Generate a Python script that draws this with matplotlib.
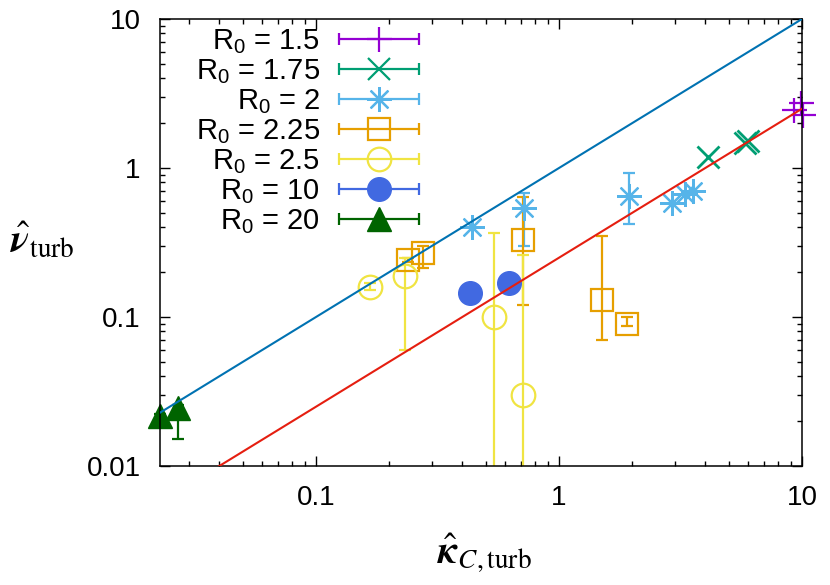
import numpy as np
import matplotlib
matplotlib.use('Agg')
import matplotlib.pyplot as plt
from matplotlib.legend_handler import HandlerErrorbar
from matplotlib.ticker import LogLocator, NullFormatter, FuncFormatter

plt.rcParams['font.family'] = ['Liberation Sans', 'DejaVu Sans']
plt.rcParams['mathtext.fontset'] = 'custom'
plt.rcParams['mathtext.rm'] = 'Liberation Sans'
plt.rcParams['mathtext.it'] = 'Liberation Sans:italic'
plt.rcParams['mathtext.bf'] = 'Liberation Sans:bold'

# ---------------- data ----------------
labels = ['1.5', '1.75', '2', '2.25', '2.5', '10', '20']

x_15 = [9.95, 9.25, 10.1]
y_15 = [2.73, 2.45, 2.27]

x_175 = [4.1, 5.8, 6.0]
y_175 = [1.18, 1.47, 1.52]

x_2 = [0.44, 0.72, 1.95, 2.93, 3.3, 3.55]
y_2 = [0.40, 0.54, 0.65, 0.58, 0.67, 0.70]
ylo_2 = [np.nan, 0.30, 0.42, np.nan, np.nan, np.nan]
yhi_2 = [np.nan, 0.68, 0.92, np.nan, np.nan, np.nan]

x_225 = [0.24, 0.275, 0.71, 1.51, 1.91]
y_225 = [0.24, 0.27, 0.33, 0.13, 0.09]
ylo_225 = [0.235, 0.212, 0.12, 0.07, 0.0875]
yhi_225 = [0.25, 0.30, 0.64, 0.35, 0.10]

x_25 = [0.167, 0.232, 0.54, 0.71]
y_25 = [0.16, 0.188, 0.10, 0.030]
ylo_25 = [0.152, 0.060, 0.002, 0.002]
yhi_25 = [0.168, 0.25, 0.365, 0.26]

x_10 = [0.43, 0.62]
y_10 = [0.144, 0.168]

x_20 = [0.0228, 0.027]
y_20 = [0.0215, 0.0245]
ylo_20 = [0.0188, 0.0152]
yhi_20 = [0.0225, 0.0255]

# reference lines  nu = c * kappa
line_x = [0.0228, 10.0]
coef_blue = 1.0
coef_red = 0.25

# --------------- styles ---------------
c_purple = '#9400d3'
c_green = '#009e73'
c_lblue = '#56b4e9'
c_orange = '#e69f00'
c_yellow = '#f0e442'
c_royal = '#4169e1'
c_dgreen = '#006400'
c_line_blue = '#0072b2'
c_line_red = '#e51e10'

fig = plt.figure(figsize=(8.3, 5.85), dpi=100)
ax = fig.add_axes([160/830, 1-466/585, 642/830, 447/585])
ax.set_xscale('log')
ax.set_yscale('log')
ax.set_xlim(0.0228, 10)
ax.set_ylim(0.01, 10)


def yerr_of(y, lo, hi):
    y = np.asarray(y, float)
    return [y - np.asarray(lo, float), np.asarray(hi, float) - y]


ms = 16
mew = 1.6
ekw = dict(elinewidth=1.6, capsize=4, capthick=1.6, linestyle='none')

ax.errorbar(x_15, y_15, marker='+', ms=ms+2, mew=mew, color=c_purple,
            clip_on=False, **ekw)
ax.errorbar(x_175, y_175, marker='x', ms=ms, mew=mew+0.4, color=c_green, **ekw)
ax.errorbar(x_2, y_2, yerr=yerr_of(y_2, ylo_2, yhi_2), marker=(8, 2, 0),
            ms=ms+2, mew=mew, color=c_lblue, **ekw)
ax.errorbar(x_225, y_225, yerr=yerr_of(y_225, ylo_225, yhi_225), marker='s',
            ms=ms, mew=mew, mfc='none', color=c_orange, **ekw)
ax.errorbar(x_25, y_25, yerr=yerr_of(y_25, ylo_25, yhi_25), marker='o',
            ms=ms+1, mew=mew, mfc='none', color=c_yellow, **ekw)
ax.errorbar(x_10, y_10, marker='o', ms=ms+1, color=c_royal, **ekw)
ax.errorbar(x_20, y_20, yerr=yerr_of(y_20, ylo_20, yhi_20), marker='^',
            ms=ms+1, color=c_dgreen, clip_on=False, **ekw)

lx = np.array(line_x)
ax.plot(lx, coef_blue * lx, color=c_line_blue, lw=1.5, zorder=5)
ax.plot(lx, coef_red * lx, color=c_line_red, lw=1.5, zorder=5)

# legend proxies (horizontal bars with caps)
specs = [
    dict(marker='+', ms=ms+2, mew=mew, color=c_purple),
    dict(marker='x', ms=ms, mew=mew, color=c_green),
    dict(marker=(8, 2, 0), ms=ms+2, mew=mew, color=c_lblue),
    dict(marker='s', ms=ms, mew=mew, mfc='none', color=c_orange),
    dict(marker='o', ms=ms+1, mew=mew, mfc='none', color=c_yellow),
    dict(marker='o', ms=ms+1, color=c_royal),
    dict(marker='^', ms=ms+1, color=c_dgreen),
]
handles = []
for s in specs:
    h = ax.errorbar([np.nan], [np.nan], xerr=[1.0], **s, **ekw)
    handles.append(h)
fs_leg = 21
hl = 80 / (fs_leg * 100 / 72)
leg = fig.legend(handles, ['R$_0$ = ' + l for l in labels],
                 loc='upper right', bbox_to_anchor=(419/830, 1-27/585),
                 frameon=False, markerfirst=False, fontsize=fs_leg,
                 handlelength=hl, handletextpad=0.65, labelspacing=0.04,
                 borderpad=0, borderaxespad=0,
                 handler_map={type(handles[0]): HandlerErrorbar(xerr_size=hl/2, numpoints=1)})

# ticks
for axis in (ax.xaxis, ax.yaxis):
    axis.set_major_locator(LogLocator(base=10, numticks=10))
    axis.set_minor_locator(LogLocator(base=10, subs=np.arange(2, 10), numticks=10))
    axis.set_minor_formatter(NullFormatter())
    axis.set_major_formatter(FuncFormatter(lambda v, p: '%g' % v))
ax.tick_params(which='both', direction='in', top=True, right=True, labelsize=20)
ax.tick_params(which='major', length=7, width=1.0, pad=14)
ax.tick_params(which='minor', length=3.5, width=1.0)
for sp in ax.spines.values():
    sp.set_linewidth(1.1)

yl = ax.set_ylabel(r'$\hat{\boldsymbol{\nu}}_{\rm turb}$', rotation=0, fontsize=28,
                   math_fontfamily='stix', va='center', ha='center')
ax.yaxis.set_label_coords(-0.184, 0.505)
ax.set_xlabel(r'$\hat{\boldsymbol{\kappa}}_{C,\rm turb}$', fontsize=28,
              math_fontfamily='stix', va='top')
ax.xaxis.set_label_coords(0.505, -0.147)

fig.savefig('out.png', dpi=100)
